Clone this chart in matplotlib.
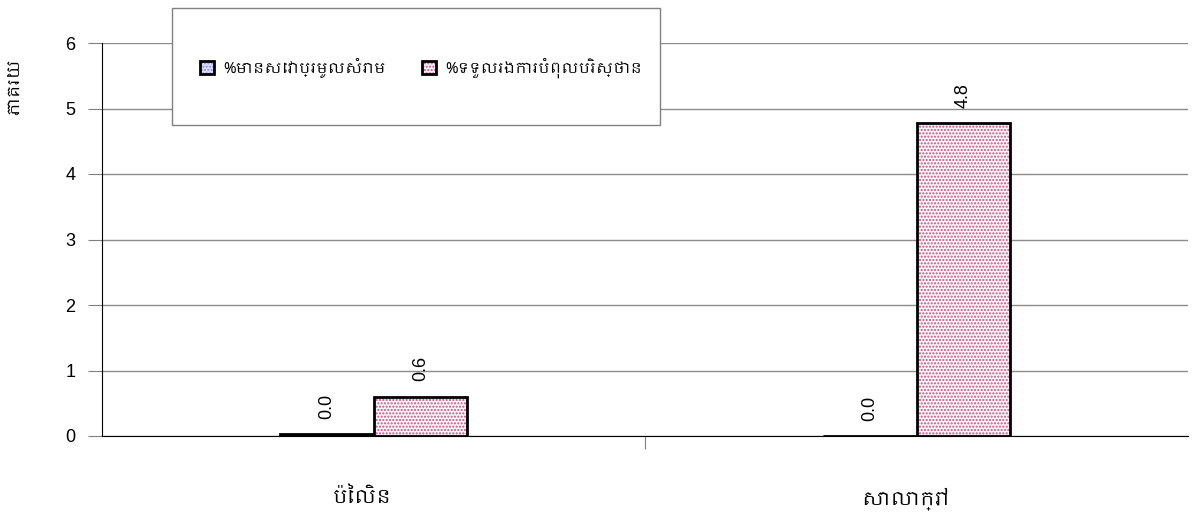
import matplotlib
matplotlib.use("Agg")
import matplotlib.pyplot as plt
from matplotlib.patches import Patch, Rectangle
import numpy as np

categories = ["ប៉ៃលិន", "សាលាក្រៅ"]
series_names = ["%មានសេវាប្រមូលសំរាម", "%ទទួលរងការបំពុលបរិស្ថាន"]
service = [0.03, 0.0]
pollution = [0.6, 4.78]
y_ticks = [0, 1, 2, 3, 4, 5, 6]

text_fonts = ["Khmer", "Noto Sans Khmer", "DejaVu Sans"]
num_font = ["Liberation Sans", "DejaVu Sans"]

face = ["#dcdcfc", "#fdf2f7"]
hatch_col = ["#8f8ff0", "#b8588a"]

plt.rcParams["hatch.linewidth"] = 1.0

fig = plt.figure(figsize=(11.92, 5.16), dpi=100)
ax = fig.add_axes([102 / 1192, 80 / 516, 1086 / 1192, 393 / 516])

x = np.arange(len(categories))
w = 0.173
b1 = ax.bar(x - w / 2, service, w, facecolor=face[0], edgecolor="black",
            linewidth=2, hatch=".....", zorder=3)
b2 = ax.bar(x + w / 2, pollution, w, facecolor=face[1], edgecolor="black",
            linewidth=2, hatch=".....", zorder=3)
for bars, color in ((b1, hatch_col[0]), (b2, hatch_col[1])):
    for b in bars:
        b._hatch_color = matplotlib.colors.to_rgba(color)

for bars, vals in ((b1, service), (b2, pollution)):
    for b, v in zip(bars, vals):
        ax.annotate(f"{v:.1f}", (b.get_x() + b.get_width() / 2, v),
                    xytext=(0, 11), textcoords="offset points", rotation=90,
                    ha="center", va="bottom", fontsize=13, family=num_font)

ax.set_xlim(-0.5, 1.5)
ax.set_ylim(0, 6)
ax.set_yticks(y_ticks)
ax.set_yticklabels([str(t) for t in y_ticks], family=num_font, fontsize=13)
ax.set_xticks([0.5])
ax.set_xticklabels([""])
ax.tick_params(axis="x", direction="out", length=9, width=0.8, color="#808080")
ax.tick_params(axis="y", direction="out", length=10, width=0.8, color="#808080", pad=9)
for i, c in enumerate(categories):
    ax.text(i - 0.02, -0.95, c, ha="center", va="center", fontsize=14, family=text_fonts)
ax.grid(axis="y", color="#8c8c8c", linewidth=1.0, zorder=0)
for s in ("top", "right"):
    ax.spines[s].set_visible(False)
ax.spines["left"].set_color("black")
ax.spines["bottom"].set_color("black")

fig.text(16 / 1192, 1 - 87 / 516, "ភាគរយ", rotation=90, ha="center", va="center",
         fontsize=12, fontweight="bold", family=text_fonts)

# legend box drawn by hand so it can be taller than the entries
fig.patches.append(Rectangle((172 / 1192, 1 - 125 / 516), 488 / 1192, 117 / 516,
                             transform=fig.transFigure, facecolor="white",
                             edgecolor="#808080", linewidth=1.0, zorder=4))
handles = []
for fc, hc in zip(face, hatch_col):
    p = Patch(facecolor=fc, edgecolor="black", hatch=".....", linewidth=2)
    p._hatch_color = matplotlib.colors.to_rgba(hc)
    handles.append(p)
leg = fig.legend(handles, series_names, loc="center",
                 bbox_to_anchor=(421 / 1192, 1 - 68 / 516), ncol=2, frameon=False,
                 prop={"family": text_fonts, "size": 11},
                 handlelength=0.9, handleheight=0.9, handletextpad=0.6,
                 columnspacing=2.4)
leg.set_zorder(5)

fig.savefig("out.png", dpi=100)
